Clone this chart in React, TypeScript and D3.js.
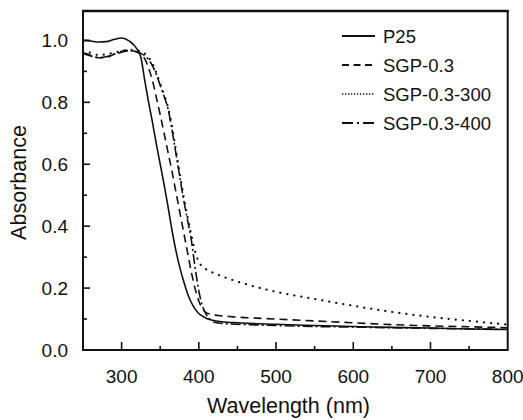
import React, { useEffect, useRef } from 'react';
import * as d3 from 'd3';

// wavelength grid (nm) shared by all four spectra
const wavelengths = [250, 260, 270, 280, 290, 300, 310, 320, 325, 330, 335, 340, 345, 350, 355, 360, 365, 370, 375, 380, 385, 390, 395, 400, 405, 410, 415, 420, 430, 440, 450, 475, 500, 550, 600, 650, 700, 750, 800];

const p25 = [1.0, 0.998, 0.995, 0.996, 1.003, 1.008, 0.998, 0.972, 0.945, 0.87, 0.8, 0.735, 0.665, 0.6, 0.535, 0.465, 0.39, 0.325, 0.27, 0.225, 0.185, 0.155, 0.133, 0.118, 0.109, 0.102, 0.098, 0.095, 0.091, 0.089, 0.088, 0.085, 0.083, 0.079, 0.076, 0.073, 0.071, 0.068, 0.066];
const sgp03 = [0.96, 0.953, 0.944, 0.945, 0.955, 0.965, 0.968, 0.962, 0.955, 0.94, 0.91, 0.87, 0.815, 0.76, 0.7, 0.64, 0.58, 0.515, 0.45, 0.385, 0.32, 0.255, 0.2, 0.158, 0.132, 0.12, 0.116, 0.113, 0.11, 0.108, 0.106, 0.103, 0.1, 0.094, 0.088, 0.082, 0.078, 0.075, 0.072];
const sgp03_300 = [0.967, 0.96, 0.953, 0.955, 0.96, 0.966, 0.97, 0.968, 0.965, 0.958, 0.945, 0.925, 0.895, 0.86, 0.825, 0.785, 0.725, 0.65, 0.575, 0.5, 0.435, 0.375, 0.32, 0.285, 0.268, 0.26, 0.253, 0.248, 0.238, 0.229, 0.221, 0.203, 0.188, 0.165, 0.143, 0.123, 0.107, 0.094, 0.082];
const sgp03_400 = [0.957, 0.95, 0.944, 0.947, 0.955, 0.962, 0.966, 0.963, 0.958, 0.95, 0.938, 0.918, 0.89, 0.855, 0.82, 0.78, 0.715, 0.64, 0.565, 0.49, 0.425, 0.36, 0.27, 0.19, 0.14, 0.113, 0.098, 0.09, 0.086, 0.084, 0.083, 0.081, 0.079, 0.076, 0.074, 0.072, 0.07, 0.068, 0.067];

const seriesNames = ['P25', 'SGP-0.3', 'SGP-0.3-300', 'SGP-0.3-400'];
const seriesValues = [p25, sgp03, sgp03_300, sgp03_400];

const xTicks = [300, 400, 500, 600, 700, 800];
const xMinorTicks = [350, 450, 550, 650, 750];
const yTicks = [0, 0.2, 0.4, 0.6, 0.8, 1.0];
const yMinorTicks = [0.1, 0.3, 0.5, 0.7, 0.9];

const FONT = '"Liberation Sans", Arial, sans-serif';

const App = () => {
    const svgRef = useRef<SVGSVGElement>(null);

    useEffect(() => {
        const svgWidth = 523;
        const svgHeight = 420;
        const left = 83, right = 507.7, top = 11, bottom = 350;

        const svg = d3.select(svgRef.current)
            .attr('width', svgWidth)
            .attr('height', svgHeight);
        svg.selectAll('*').remove();

        const x = d3.scaleLinear().domain([250, 800]).range([left, right]);
        const y = d3.scaleLinear().domain([0, 1.095]).range([bottom, top]);

        // line styles for the plot and the legend
        const plotDash = [null, '8,5', '0.1,7', '10,3,2,3'];
        const legendDash = [null, '7,4.5', '1.3,1.7', '11,4,2,4'];

        const line = d3.line<number>()
            .x((d, i) => x(wavelengths[i]))
            .y(d => y(d))
            .curve(d3.curveMonotoneX);

        svg.append('clipPath').attr('id', 'plot-clip')
            .append('rect')
            .attr('x', left).attr('y', top)
            .attr('width', right - left).attr('height', bottom - top);

        const curves = svg.append('g').attr('clip-path', 'url(#plot-clip)');
        seriesValues.forEach((vals, i) => {
            curves.append('path')
                .datum(vals)
                .attr('d', line)
                .attr('fill', 'none')
                .attr('stroke', '#111')
                .attr('stroke-width', i === 2 ? 2.2 : 1.6)
                .attr('stroke-linecap', i === 2 ? 'round' : 'butt')
                .attr('stroke-dasharray', plotDash[i]);
        });

        // frame
        svg.append('rect')
            .attr('x', left).attr('y', top)
            .attr('width', right - left).attr('height', bottom - top)
            .attr('fill', 'none')
            .attr('stroke', '#111')
            .attr('stroke-width', 2);
        svg.append('line')
            .attr('x1', left - 1).attr('x2', right + 1)
            .attr('y1', top).attr('y2', top)
            .attr('stroke', '#111').attr('stroke-width', 2.6);

        // x ticks (inward)
        const ticks = svg.append('g').attr('stroke', '#111').attr('stroke-width', 1.6);
        xTicks.filter(t => t < 800).forEach(t => {
            ticks.append('line').attr('x1', x(t)).attr('x2', x(t)).attr('y1', bottom).attr('y2', bottom - 8);
        });
        xMinorTicks.forEach(t => {
            ticks.append('line').attr('x1', x(t)).attr('x2', x(t)).attr('y1', bottom).attr('y2', bottom - 4);
        });
        yTicks.filter(t => t > 0).forEach(t => {
            ticks.append('line').attr('x1', left).attr('x2', left + 7).attr('y1', y(t)).attr('y2', y(t));
        });
        yMinorTicks.forEach(t => {
            ticks.append('line').attr('x1', left).attr('x2', left + 4).attr('y1', y(t)).attr('y2', y(t));
        });

        // tick labels
        svg.append('g').selectAll('text')
            .data(xTicks)
            .enter()
            .append('text')
            .attr('x', d => x(d))
            .attr('y', bottom + 33)
            .attr('text-anchor', 'middle')
            .attr('font-family', FONT)
            .attr('font-size', 19)
            .attr('fill', '#111')
            .text(d => d);

        svg.append('g').selectAll('text')
            .data(yTicks)
            .enter()
            .append('text')
            .attr('x', 68)
            .attr('y', d => y(d))
            .attr('dy', '0.36em')
            .attr('text-anchor', 'end')
            .attr('font-family', FONT)
            .attr('font-size', 19)
            .attr('fill', '#111')
            .text(d => d3.format('.1f')(d));

        // axis titles
        svg.append('text')
            .attr('x', 288.5)
            .attr('y', 413)
            .attr('text-anchor', 'middle')
            .attr('font-family', FONT)
            .attr('font-size', 21.5)
            .attr('fill', '#111')
            .text('Wavelength (nm)');

        svg.append('text')
            .attr('transform', 'translate(25.5, 182.5) rotate(-90)')
            .attr('text-anchor', 'middle')
            .attr('font-family', FONT)
            .attr('font-size', 21.5)
            .attr('fill', '#111')
            .text('Absorbance');

        // legend
        const legend = svg.append('g');
        seriesNames.forEach((name, i) => {
            const ly = 36 + i * 29;
            legend.append('line')
                .attr('x1', 342).attr('x2', 375)
                .attr('y1', ly).attr('y2', ly)
                .attr('stroke', '#111')
                .attr('stroke-width', i === 2 ? 1.3 : 1.8)
                .attr('stroke-dasharray', legendDash[i]);
            legend.append('text')
                .attr('x', 383)
                .attr('y', ly)
                .attr('dy', '0.36em')
                .attr('font-family', FONT)
                .attr('font-size', 18.5)
                .attr('fill', '#111')
                .text(name);
        });
    }, []);

    return (
        <svg ref={svgRef} style={{ position: 'absolute', left: 0, top: 0 }}></svg>
    );
};

export default App;
